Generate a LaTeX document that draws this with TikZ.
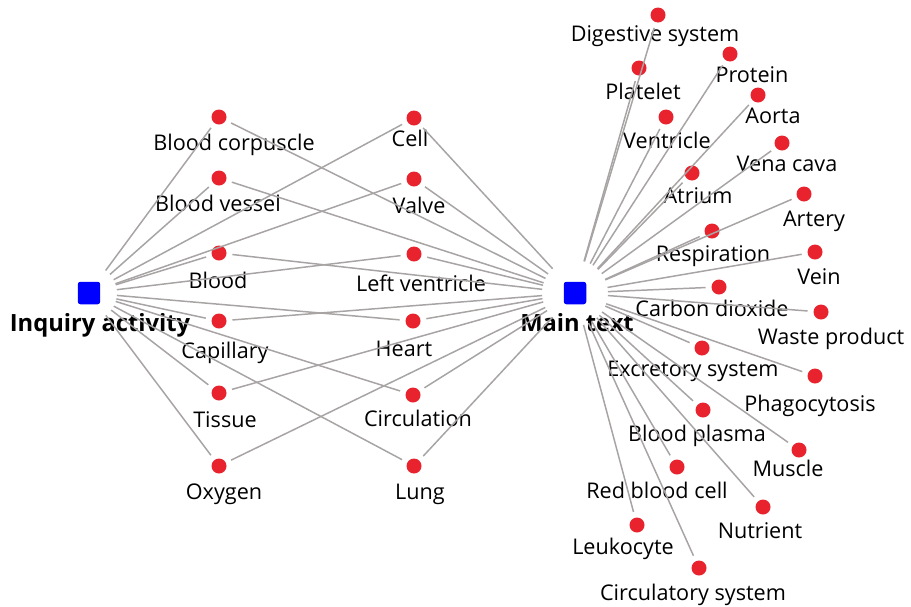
\documentclass[tikz,border=0pt]{standalone}
\usepackage{fontspec}
\setmainfont{Open Sans}
\definecolor{dotred}{HTML}{E8232E}
\definecolor{linegray}{HTML}{A8A4A4}
\definecolor{hubblue}{HTML}{0000FF}

\begin{document}
\begin{tikzpicture}[x=0.02cm,y=-0.02cm]
        \tikzset{dot/.style={circle,fill=dotred,minimum size=0.3cm,inner sep=0pt,outer sep=0.12cm},
            hub/.style={fill=hubblue,minimum size=0.45cm,inner sep=0pt,rounded corners=1.5pt},
            lbl/.style={font=\fontsize{12.3}{14}\selectfont,text height=1.5ex,text depth=.25ex,inner sep=0pt,yshift=-1.7pt},
            hublbl/.style={lbl,font=\fontsize{13.5}{15}\selectfont\bfseries},
            link/.style={draw=linegray,line width=0.85pt}}
        \useasboundingbox (0,0) rectangle (911,606);
        % the two hubs
        \node[hub] (inq) at (89,293) {};
        \node[hublbl] (inq-t) at (100,323) {Inquiry activity};
        \node[hub] (main) at (575,293) {};
        \node[hublbl] (main-t) at (577,323) {Main text};
        % shared terms, left column
        \node[dot] (bc) at (219,117) {};
        \node[lbl] (bc-t) at (234,142) {Blood corpuscle};
        \node[dot] (bv) at (219,178) {};
        \node[lbl] (bv-t) at (218,203) {Blood vessel};
        \node[dot] (blood) at (219,253) {};
        \node[lbl] (blood-t) at (218,280) {Blood};
        \node[dot] (cap) at (219,321) {};
        \node[lbl] (cap-t) at (225,350) {Capillary};
        \node[dot] (tis) at (219,393) {};
        \node[lbl] (tis-t) at (225,419) {Tissue};
        \node[dot] (oxy) at (219,466) {};
        \node[lbl] (oxy-t) at (224,491) {Oxygen};
        % shared terms, right column
        \node[dot] (cell) at (414,118) {};
        \node[lbl] (cell-t) at (410,138) {Cell};
        \node[dot] (valve) at (414,179) {};
        \node[lbl] (valve-t) at (419,205) {Valve};
        \node[dot] (lv) at (414,254) {};
        \node[lbl] (lv-t) at (421,283) {Left ventricle};
        \node[dot] (heart) at (413,321) {};
        \node[lbl] (heart-t) at (404,348) {Heart};
        \node[dot] (circ) at (413,395) {};
        \node[lbl] (circ-t) at (418,418) {Circulation};
        \node[dot] (lung) at (414,466) {};
        \node[lbl] (lung-t) at (420,491) {Lung};
        % main text only
        \node[dot] (dig) at (658,15) {};
        \node[lbl] (dig-t) at (655,33) {Digestive system};
        \node[dot] (plt) at (639,68) {};
        \node[lbl] (plt-t) at (643,91) {Platelet};
        \node[dot] (prot) at (730,54) {};
        \node[lbl] (prot-t) at (752,74) {Protein};
        \node[dot] (aorta) at (758,95) {};
        \node[lbl] (aorta-t) at (773,115) {Aorta};
        \node[dot] (vent) at (666,117) {};
        \node[lbl] (vent-t) at (667,140) {Ventricle};
        \node[dot] (vena) at (782,143) {};
        \node[lbl] (vena-t) at (787,163) {Vena cava};
        \node[dot] (atr) at (692,173) {};
        \node[lbl] (atr-t) at (698,195) {Atrium};
        \node[dot] (art) at (804,194) {};
        \node[lbl] (art-t) at (814,218) {Artery};
        \node[dot] (resp) at (712,231) {};
        \node[lbl] (resp-t) at (713,253) {Respiration};
        \node[dot] (vein) at (815,252) {};
        \node[lbl] (vein-t) at (819,276) {Vein};
        \node[dot] (co2) at (719,287) {};
        \node[lbl] (co2-t) at (712,308) {Carbon dioxide};
        \node[dot] (waste) at (821,312) {};
        \node[lbl] (waste-t) at (831,336) {Waste product};
        \node[dot] (excr) at (702,348) {};
        \node[lbl] (excr-t) at (693,368) {Excretory system};
        \node[dot] (phago) at (815,376) {};
        \node[lbl] (phago-t) at (810,403) {Phagocytosis};
        \node[dot] (plasma) at (703,410) {};
        \node[lbl] (plasma-t) at (697,433) {Blood plasma};
        \node[dot] (muscle) at (799,450) {};
        \node[lbl] (muscle-t) at (788,468) {Muscle};
        \node[dot] (rbc) at (677,467) {};
        \node[lbl] (rbc-t) at (657,490) {Red blood cell};
        \node[dot] (nutr) at (763,507) {};
        \node[lbl] (nutr-t) at (760,530) {Nutrient};
        \node[dot] (leuko) at (637,525) {};
        \node[lbl] (leuko-t) at (623,546) {Leukocyte};
        \node[dot] (circsys) at (699,568) {};
        \node[lbl] (circsys-t) at (693,592) {Circulatory system};
        % links
        \foreach \n in {bc,bv,blood,cap,tis,oxy,cell,valve,lv,heart,circ,lung}
            \draw[link,shorten <=0.56cm] (inq.center) -- (\n);
        \foreach \n in {bc,bv,blood,cap,tis,oxy,cell,valve,lv,heart,circ,lung,dig,plt,prot,aorta,vent,vena,atr,art,resp,vein,co2,waste,excr,phago,plasma,muscle,rbc,nutr,leuko,circsys}
            \draw[link,shorten <=0.66cm] (main.center) -- (\n);
\end{tikzpicture}
\end{document}
